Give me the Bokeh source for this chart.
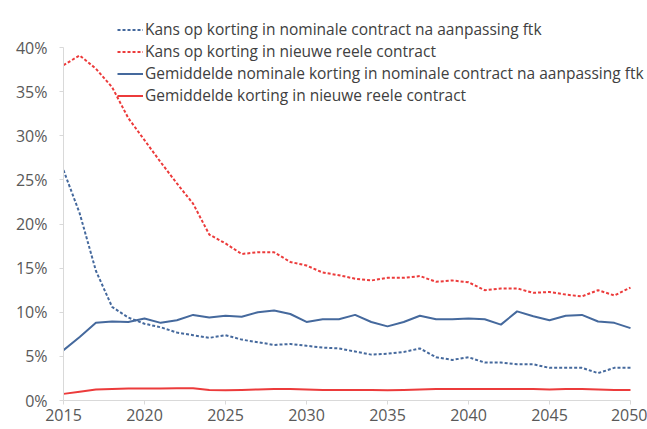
from bokeh.plotting import figure
from bokeh.models import Range1d, FixedTicker, NumeralTickFormatter, Legend, LegendItem
from bokeh.embed import file_html
from bokeh.resources import INLINE

years = list(range(2015, 2051))

kans_nominaal = [26.1, 21.2, 14.7, 10.6, 9.4, 8.7, 8.3, 7.7, 7.4, 7.1, 7.4, 6.9,
                 6.6, 6.3, 6.4, 6.2, 6.0, 5.9, 5.55, 5.2, 5.3, 5.5, 5.9, 4.9,
                 4.6, 4.9, 4.3, 4.3, 4.1, 4.1, 3.7, 3.7, 3.7, 3.1, 3.7, 3.7]
kans_reeel = [38.0, 39.1, 37.6, 35.5, 32.0, 29.5, 27.0, 24.6, 22.3, 18.8, 17.8, 16.6,
              16.8, 16.8, 15.7, 15.3, 14.5, 14.2, 13.8, 13.6, 13.9, 13.9, 14.1, 13.45,
              13.6, 13.4, 12.5, 12.7, 12.7, 12.2, 12.3, 12.0, 11.8, 12.5, 11.9, 12.8]
gem_nominaal = [5.7, 7.2, 8.8, 8.95, 8.9, 9.3, 8.8, 9.1, 9.7, 9.4, 9.6, 9.5,
                10.0, 10.2, 9.8, 8.9, 9.2, 9.2, 9.7, 8.9, 8.4, 8.9, 9.6, 9.2,
                9.2, 9.3, 9.2, 8.6, 10.1, 9.55, 9.1, 9.6, 9.7, 8.95, 8.8, 8.2]
gem_reeel = [0.75, 1.0, 1.25, 1.3, 1.35, 1.35, 1.35, 1.4, 1.4, 1.2, 1.15, 1.2,
             1.25, 1.3, 1.3, 1.25, 1.2, 1.2, 1.2, 1.2, 1.15, 1.2, 1.25, 1.3,
             1.3, 1.3, 1.3, 1.3, 1.3, 1.3, 1.25, 1.3, 1.3, 1.25, 1.2, 1.2]

labels = [
    "Kans op korting in nominale contract na aanpassing ftk",
    "Kans op korting in nieuwe reele contract",
    "Gemiddelde nominale korting in nominale contract na aanpassing ftk",
    "Gemiddelde korting in nieuwe reele contract",
]
x_ticks = [2015, 2020, 2025, 2030, 2035, 2040, 2045, 2050]
y_ticks = [0, 0.05, 0.10, 0.15, 0.20, 0.25, 0.30, 0.35, 0.40]

BLUE = "#45699d"
RED = "#ec3b3b"
FONT = "Open Sans"

p = figure(width=647, height=429, output_backend="svg", toolbar_location=None,
           x_range=Range1d(2015, 2050.926), y_range=Range1d(0, 0.4442),
           min_border_left=63, min_border_right=2, min_border_top=8, min_border_bottom=29)
p.outline_line_color = None
p.xgrid.visible = False
p.ygrid.visible = False

def frac(v):
    return [a / 100 for a in v]

r1 = p.line(years, frac(kans_nominaal), line_color=BLUE, line_width=2, line_dash="3 2")
r2 = p.line(years, frac(kans_reeel), line_color=RED, line_width=2, line_dash="3 2")
r3 = p.line(years, frac(gem_nominaal), line_color=BLUE, line_width=2)
r4 = p.line(years, frac(gem_reeel), line_color=RED, line_width=2)

for ax in (p.xaxis[0], p.yaxis[0]):
    ax.axis_line_color = "#d9d9d9"
    ax.major_tick_line_color = "#d9d9d9"
    ax.minor_tick_line_color = None
    ax.major_tick_in = 0
    ax.major_tick_out = 4
    ax.major_label_text_font = FONT
    ax.major_label_text_color = "#595959"

p.xaxis[0].ticker = FixedTicker(ticks=x_ticks)
p.xaxis[0].bounds = (2015, 2050)
p.xaxis[0].major_label_standoff = 4
p.xaxis[0].major_label_text_font_size = "16px"
p.yaxis[0].ticker = FixedTicker(ticks=y_ticks)
p.yaxis[0].bounds = (0, 0.40)
p.yaxis[0].formatter = NumeralTickFormatter(format="0%")
p.yaxis[0].major_label_standoff = 12
p.yaxis[0].major_label_text_font_size = "16px"

legend = Legend(items=[LegendItem(label=l, renderers=[r]) for l, r in zip(labels, [r1, r2, r3, r4])],
                location=(54, 294), padding=0, margin=0, spacing=0,
                glyph_width=26, glyph_height=21, label_height=21, label_standoff=2,
                label_text_font=FONT, label_text_font_size="15.5px", label_text_color="#404040",
                border_line_color=None, background_fill_alpha=0)
p.add_layout(legend, "center")

open("out.html", "w").write(file_html(p, INLINE))
